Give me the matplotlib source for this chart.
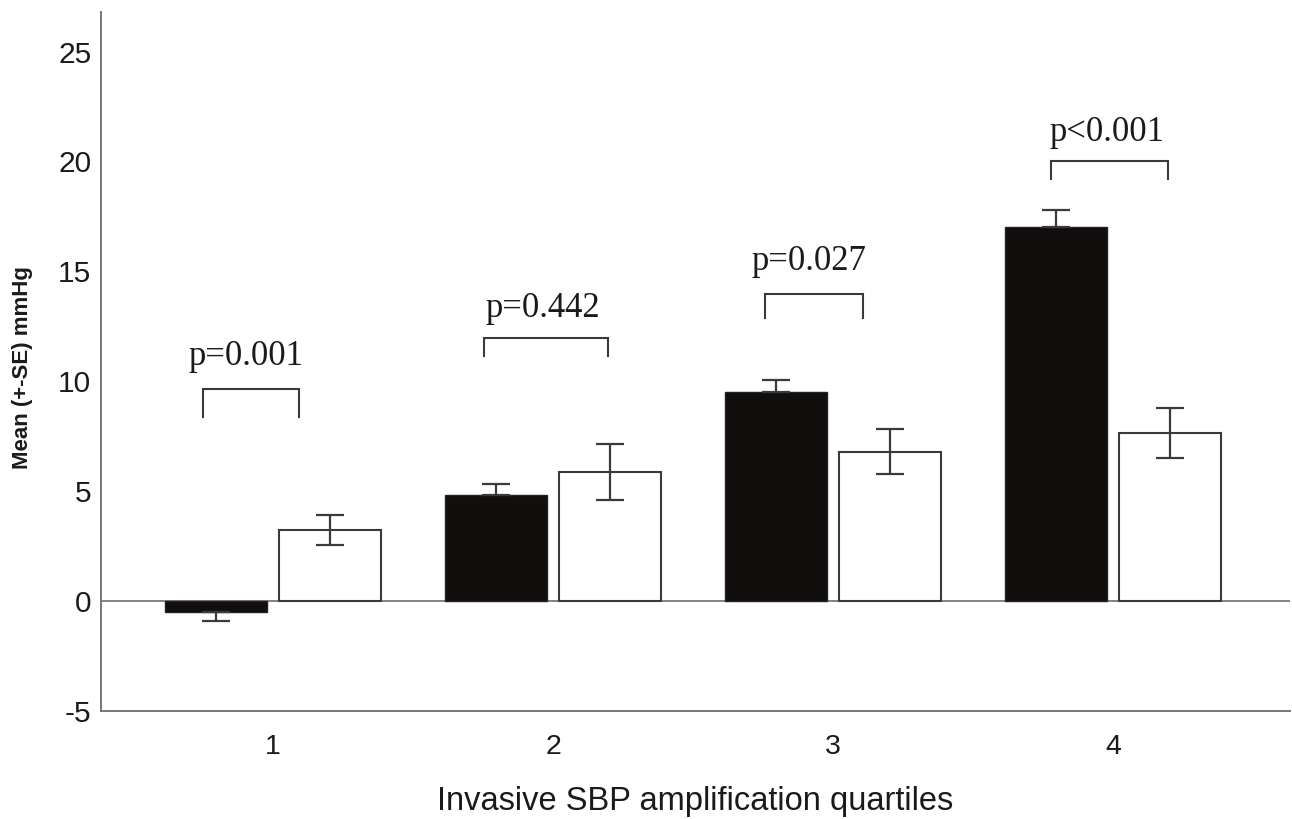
import matplotlib
matplotlib.use("Agg")
import matplotlib.pyplot as plt
import numpy as np

# ---- data ----
quartiles = [1, 2, 3, 4]
tick_labels = ["1", "2", "3", "4"]
black_means = [-0.51, 4.82, 9.53, 17.04]
black_se = [0.40, 0.49, 0.53, 0.76]
white_means = [3.24, 5.86, 6.80, 7.66]
white_se = [0.67, 1.27, 1.04, 1.14]
p_labels = ["p=0.001", "p=0.442", "p=0.027", "p<0.001"]

# annotation geometry (brackets / p-text)
br_left = [0.749, 1.754, 2.757, 3.779]
br_right = [1.094, 2.195, 3.107, 4.196]
br_top = [9.64, 11.97, 13.96, 20.03]
br_bottom = [8.36, 11.15, 12.88, 19.21]
p_x = [0.903, 1.963, 2.914, 3.977]
p_y = [10.74, 12.91, 15.07, 20.95]

fig = plt.figure(figsize=(12.92, 8.19), dpi=100)
ax = fig.add_axes([0.0782, 0.1319, 0.9203, 0.8534])

x = np.array(quartiles, dtype=float)
w = 0.366
off = 0.204
gray = "#3a3a3a"

ax.bar(x - off, black_means, width=w, color="#110e0d", edgecolor="#222222",
       linewidth=1.0, zorder=3)
ax.bar(x + off, white_means, width=w, color="white", edgecolor=gray,
       linewidth=1.5, zorder=3)

# black bars: one-sided error bars (away from zero)
lower = [s if m < 0 else 0 for m, s in zip(black_means, black_se)]
upper = [0 if m < 0 else s for m, s in zip(black_means, black_se)]
ax.errorbar(x - off, black_means, yerr=[lower, upper], fmt="none",
            ecolor=gray, elinewidth=1.6, capsize=10, capthick=1.6, zorder=4)
ax.errorbar(x + off, white_means, yerr=white_se, fmt="none",
            ecolor=gray, elinewidth=1.6, capsize=10, capthick=1.6, zorder=4)

# significance brackets
for l, r, t, b, px, py, lab in zip(br_left, br_right, br_top, br_bottom,
                                    p_x, p_y, p_labels):
    ax.plot([l, l, r, r], [b, t, t, b], color=gray, lw=1.5, zorder=4,
            solid_joinstyle="miter")
    ax.text(px, py, lab, ha="center", va="baseline",
            fontfamily="Liberation Serif", fontsize=25, color="#1a1a1a")

ax.axhline(0, color="#8a8080", lw=1.4, zorder=2)

ax.set_xlim(0.386, 4.632)
ax.set_ylim(-5, 26.8)
ax.set_yticks([-5, 0, 5, 10, 15, 20, 25])
ax.set_yticklabels(["-5", "0", "5", "10", "15", "20", "25"],
                   fontfamily="Liberation Sans", fontsize=21.5)
ax.set_xticks(x)
ax.set_xticklabels(tick_labels, fontfamily="Liberation Sans", fontsize=20.5)
ax.tick_params(axis="y", length=0, pad=7, colors="#1a1a1a")
ax.tick_params(axis="x", length=0, pad=16.5, colors="#1a1a1a")

for s in ["top", "right"]:
    ax.spines[s].set_visible(False)
for s in ["left", "bottom"]:
    ax.spines[s].set_color("#7a7575")
    ax.spines[s].set_linewidth(1.4)

ax.set_xlabel("Invasive SBP amplification quartiles",
              fontfamily="Liberation Sans", fontsize=23.5, labelpad=19,
              color="#1a1a1a")
ax.set_ylabel("Mean (+-SE) mmHg", fontfamily="Liberation Sans",
              fontsize=16, fontweight="bold", color="#1a1a1a")
ax.yaxis.set_label_coords(-0.0572, 0.491)

fig.savefig("out.png", dpi=100)
